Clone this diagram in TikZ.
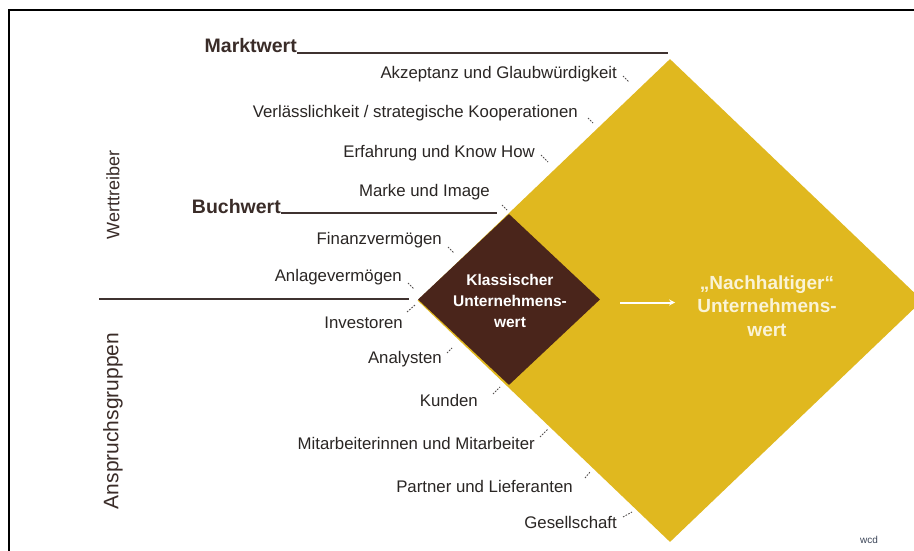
\documentclass[tikz,border=0pt]{standalone}
\usepackage{fontspec}
\setmainfont{Liberation Sans}
\usetikzlibrary{arrows.meta,shapes.geometric}

\definecolor{goldfill}{HTML}{E0B81F}
\definecolor{brownfill}{HTML}{4A251B}
\definecolor{inktext}{HTML}{2A2624}
\definecolor{headtext}{HTML}{3A2C28}
\definecolor{rulecol}{HTML}{3F3230}
\definecolor{creamtext}{HTML}{FAF3D6}
\definecolor{markcol}{HTML}{3B4558}

\tikzset{
  driver/.style={anchor=east, inner sep=0pt, text=inktext,
    font=\fontsize{16.8}{19}\selectfont},
  heading/.style={inner sep=0pt, text=headtext,
    font=\bfseries\fontsize{19.5}{22}\selectfont},
  sidetitle/.style={rotate=90, inner sep=0pt, text=headtext},
  valueline/.style={draw=rulecol, line width=1.8pt},
  leader/.style={draw=inktext!80, line width=0.9pt, dash pattern=on 1.6pt off 1.4pt},
  diamondbox/.style={diamond, inner sep=0pt, draw=none},
  centertext/.style={align=center, inner sep=0pt, text=white,
    font=\bfseries\fontsize{15.5}{21}\selectfont},
  righttext/.style={align=center, inner sep=0pt, text=creamtext,
    font=\bfseries\fontsize{19}{23.5}\selectfont},
  flowarrow/.style={draw=white, line width=2pt, -{Stealth[length=6pt,width=6pt]}}
}

\begin{document}
\begin{tikzpicture}[x=1pt,y=-1pt]
\useasboundingbox (0,0) rectangle (914,551);
\fill[white] (0,0) rectangle (914,551);

% frame on the left and top
\draw[black, line width=1.3pt] (9,551) -- (9,10) -- (914,10);

% the two value diamonds
\node[diamondbox, fill=goldfill, minimum width=505pt, minimum height=483pt]
  (goldd) at (670,300.5) {};
\node[diamondbox, fill=brownfill, minimum width=182pt, minimum height=171pt]
  (brownd) at (509,299.5) {};

\node[centertext] (klass) at (510,301) {Klassischer\\Unternehmens-\\wert};
\node[righttext] (nach) at (767,306) {„Nachhaltiger“\\Unternehmens-\\wert};
\draw[flowarrow] ([xshift=20pt,yshift=-3pt]brownd.east) -- ++(55,0);

% market value and book value rulers
\node[heading, anchor=base east] (mw) at (297,53) {Marktwert};
\coordinate (mwend) at (668,53);
\draw[valueline] (mw.base east) -- (mwend);

\node[heading, anchor=base east] (bw) at (281,213) {Buchwert};
\coordinate (bwend) at (497,213);
\draw[valueline] (bw.base east) -- (bwend);

% divider between value drivers and stakeholders
\coordinate (divl) at (99,299);
\coordinate (divr) at (409,299);
\draw[valueline] (divl) -- (divr);

\node[sidetitle, font=\fontsize{18}{20}\selectfont] (wt) at (113,195) {Werttreiber};
\node[sidetitle, font=\fontsize{21}{24}\selectfont] (ag) at (113,421) {Anspruchsgruppen};

% value drivers
\node[driver] (d1) at (617,74) {Akzeptanz und Glaubwürdigkeit};
\node[driver] (d2) at (578,113) {Verlässlichkeit / strategische Kooperationen};
\node[driver] (d3) at (535,153) {Erfahrung und Know How};
\node[driver] (d4) at (490,192) {Marke und Image};
\node[driver] (d5) at (442,240) {Finanzvermögen};
\node[driver] (d6) at (402,277) {Anlagevermögen};

\draw[leader] ([shift={(6,2)}]d1.east) -- ++(6,6);
\draw[leader] ([shift={(10,5)}]d2.east) -- ++(5,5);
\draw[leader] ([shift={(6,2)}]d3.east) -- ++(7,7);
\draw[leader] ([shift={(12,13)}]d4.east) -- ++(5,5);
\draw[leader] ([shift={(6,7)}]d5.east) -- ++(6,6);
\draw[leader] ([shift={(6,6)}]d6.east) -- ++(6,6);

% stakeholder groups
\node[driver] (s1) at (403,323) {Investoren};
\node[driver] (s2) at (442,359) {Analysten};
\node[driver] (s3) at (478,400) {Kunden};
\node[driver] (s4) at (535,443) {Mitarbeiterinnen und Mitarbeiter};
\node[driver] (s5) at (573,486) {Partner und Lieferanten};
\node[driver] (s6) at (617,522) {Gesellschaft};

\draw[leader] ([shift={(4,-11)}]s1.east) -- ++(8,-7);
\draw[leader] ([shift={(5,-6)}]s2.east) -- ++(5,-5);
\draw[leader] ([shift={(15,-6)}]s3.east) -- ++(7,-7);
\draw[leader] ([shift={(5,-6)}]s4.east) -- ++(8,-8);
\draw[leader] ([shift={(12,-8)}]s5.east) -- ++(5,-6);
\draw[leader] ([shift={(6,-5)}]s6.east) -- ++(9,-5);

\node[inner sep=0pt, text=markcol, font=\fontsize{10}{12}\selectfont]
  (sig) at (869,540) {wcd};
\end{tikzpicture}
\end{document}
